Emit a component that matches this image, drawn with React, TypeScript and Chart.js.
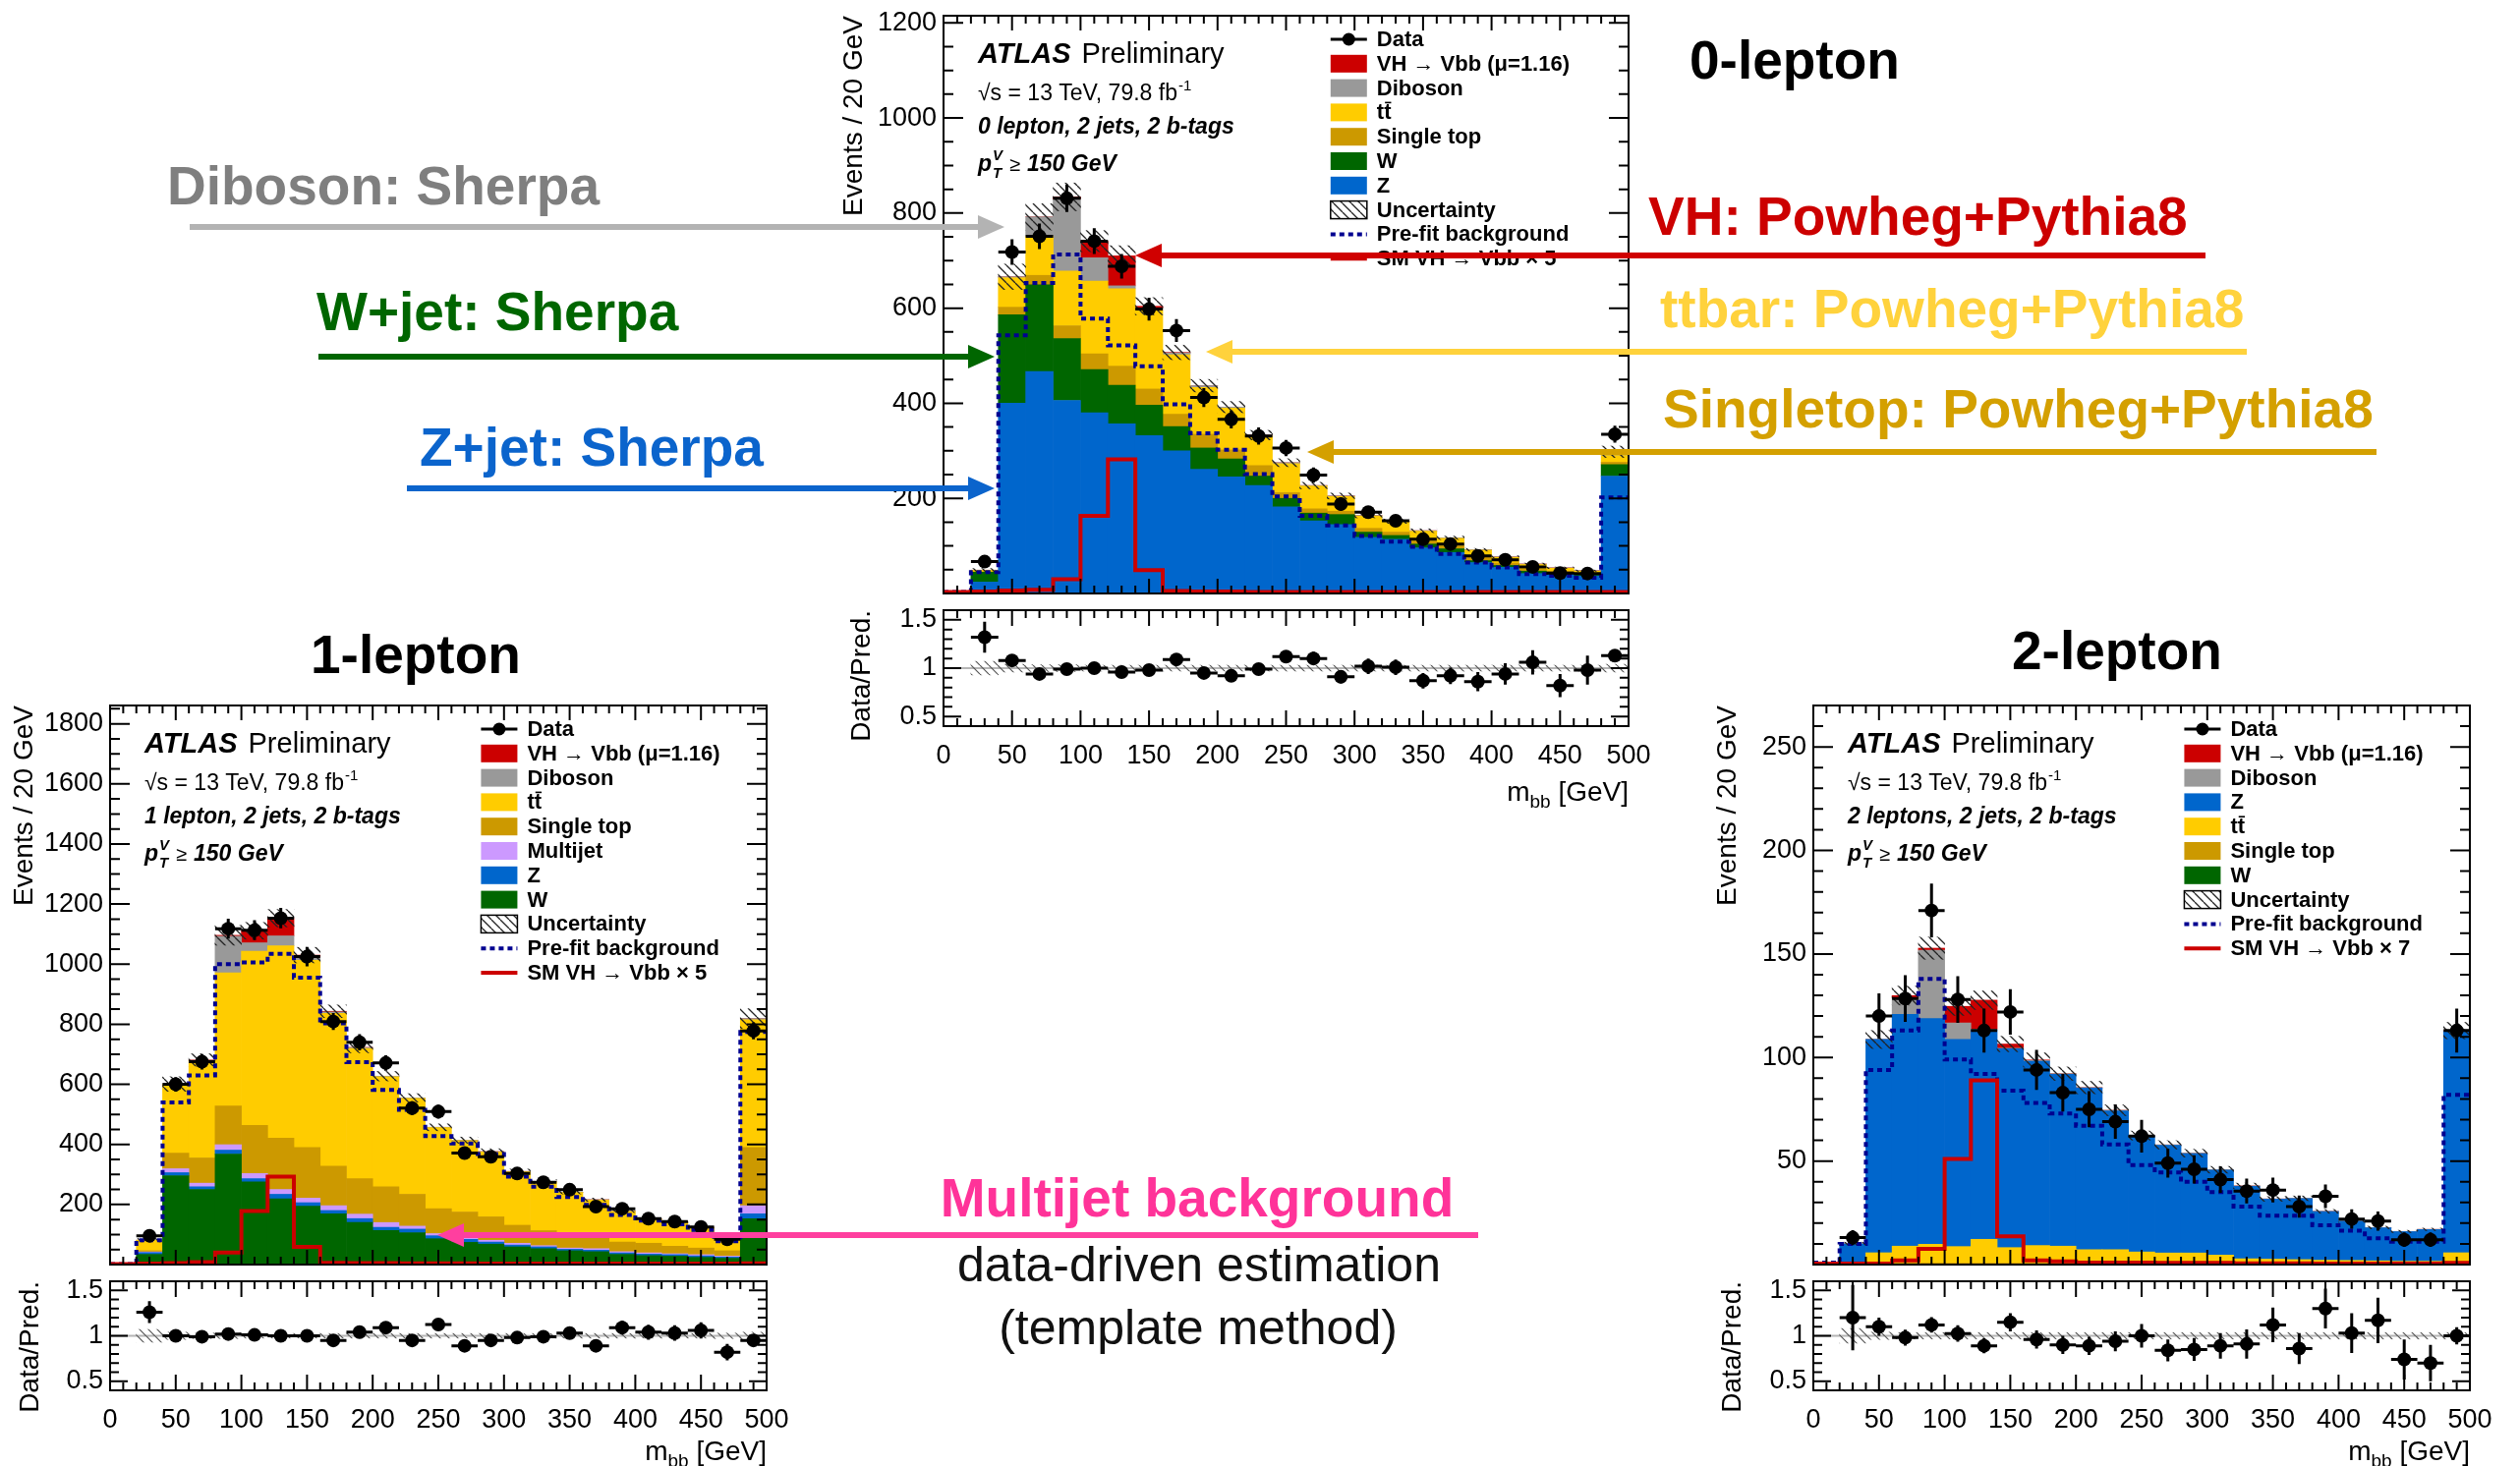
import React, { useEffect, useRef } from 'react';
import { Chart, registerables } from 'chart.js';

Chart.register(...registerables);

const FONT = '"Liberation Sans", Arial, Helvetica, sans-serif';

// ---------- binning / shared ticks ----------
const BIN_CENTERS = [10, 30, 50, 70, 90, 110, 130, 150, 170, 190, 210, 230, 250, 270, 290, 310, 330, 350, 370, 390, 410, 430, 450, 470, 490];
const BIN_HALF_WIDTH = 10;
const X_MIN = 0;
const X_MAX = 500;
const X_TICK_LABELS = [0, 50, 100, 150, 200, 250, 300, 350, 400, 450, 500];
const RATIO_TICK_LABELS = [0.5, 1, 1.5];
const RATIO_MIN = 0.4;
const RATIO_MAX = 1.6;

// ---------- 0-lepton ----------
const L0_Y_TICK_LABELS = [200, 400, 600, 800, 1000, 1200];
const L0_Z = [2, 24, 400, 467, 406, 380, 357, 332, 300, 261, 245, 227, 182, 153, 145, 118, 114, 96, 86, 65, 55, 42, 41, 37, 247];
const L0_W = [0, 21, 186, 182, 130, 91, 81, 64, 51, 45, 38, 20, 18, 16, 21, 11, 8, 8, 8, 4, 4, 5, 3, 2, 24];
const L0_SINGLE_TOP = [0, 0, 16, 20, 27, 33, 40, 34, 26, 29, 19, 22, 12, 9, 7, 8, 7, 6, 6, 7, 5, 4, 3, 3, 5];
const L0_TTBAR = [0, 4, 62, 82, 115, 153, 163, 166, 125, 98, 88, 62, 61, 48, 31, 26, 22, 21, 16, 15, 12, 10, 6, 5, 14];
const L0_DIBOSON = [0, 0, 2, 41, 151, 49, 6, 4, 4, 4, 2, 2, 2, 1, 1, 1, 1, 1, 1, 1, 1, 1, 1, 1, 8];
const L0_VH = [0, 0, 0, 0, 5, 35, 63, 4, 1, 0, 0, 0, 0, 0, 0, 0, 0, 0, 0, 0, 0, 0, 0, 0, 0];
const L0_DATA = [null, 67, 718, 751, 831, 741, 688, 598, 553, 412, 366, 331, 306, 249, 188, 171, 153, 114, 104, 79, 71, 56, 43, 42, 335];
const L0_DATA_ERR = [0, 8, 27, 27, 29, 27, 26, 24, 24, 20, 19, 18, 17, 16, 14, 13, 12, 11, 10, 9, 8, 7.5, 6.6, 6.5, 18];
const L0_PREFIT = [3, 45, 543, 653, 713, 578, 522, 478, 398, 337, 302, 251, 204, 163, 143, 121, 109, 98, 83, 65, 55, 41, 37, 33, 202];
const L0_SM_VH = [3, 4, 6, 8, 30, 163, 282, 49, 5, 4, 4, 3, 3, 3, 3, 3, 3, 3, 3, 3, 3, 3, 3, 3, 3];
const L0_UNC = [0, 0.07, 0.04, 0.035, 0.035, 0.03, 0.03, 0.03, 0.03, 0.03, 0.03, 0.03, 0.03, 0.03, 0.03, 0.03, 0.03, 0.03, 0.03, 0.03, 0.03, 0.03, 0.03, 0.03, 0.04];
const L0_RATIO = [null, 1.32, 1.08, 0.94, 0.99, 1.0, 0.96, 0.98, 1.09, 0.95, 0.92, 0.99, 1.12, 1.1, 0.91, 1.02, 1.01, 0.87, 0.92, 0.86, 0.94, 1.06, 0.82, 0.98, 1.13];
const L0_RATIO_ERR = [0, 0.16, 0.04, 0.035, 0.035, 0.037, 0.037, 0.04, 0.046, 0.046, 0.05, 0.055, 0.06, 0.07, 0.067, 0.08, 0.08, 0.08, 0.086, 0.1, 0.11, 0.125, 0.12, 0.15, 0.06];

// ---------- 1-lepton ----------
const L1_Y_TICK_LABELS = [200, 400, 600, 800, 1000, 1200, 1400, 1600, 1800];
const L1_W = [0, 34, 296, 250, 368, 275, 219, 194, 169, 140, 113, 106, 86, 74, 68, 59, 53, 46, 43, 34, 30, 28, 24, 21, 153];
const L1_Z = [0, 6, 10, 9, 13, 11, 15, 12, 11, 13, 11, 12, 10, 10, 7, 6, 6, 5, 5, 5, 5, 5, 5, 4, 16];
const L1_MULTIJET = [0, 2, 13, 12, 18, 17, 16, 15, 16, 15, 16, 10, 7, 6, 6, 6, 4, 4, 5, 4, 4, 3, 4, 3, 27];
const L1_SINGLE_TOP = [0, 4, 52, 84, 129, 160, 171, 169, 132, 118, 119, 106, 83, 85, 78, 60, 50, 48, 37, 32, 32, 25, 22, 18, 194];
const L1_TTBAR = [0, 35, 229, 323, 443, 580, 640, 623, 508, 433, 366, 319, 270, 238, 216, 178, 162, 137, 125, 102, 80, 80, 68, 56, 425];
const L1_DIBOSON = [0, 0, 1, 2, 122, 28, 33, 11, 5, 3, 2, 2, 1, 1, 1, 1, 1, 1, 1, 1, 1, 1, 1, 1, 4];
const L1_VH = [0, 0, 0, 1, 3, 40, 59, 6, 2, 1, 0, 0, 0, 0, 0, 0, 0, 0, 0, 0, 0, 0, 0, 0, 0];
const L1_DATA = [null, 96, 600, 675, 1118, 1113, 1153, 1025, 809, 740, 671, 521, 509, 371, 359, 303, 274, 249, 193, 186, 153, 143, 125, 84, 778];
const L1_DATA_ERR = [0, 10, 24, 26, 33, 33, 34, 32, 28, 27, 26, 23, 23, 19, 19, 17, 17, 16, 14, 14, 12, 12, 11, 9, 28];
const L1_PREFIT = [2, 81, 540, 630, 1000, 1006, 1034, 955, 803, 674, 581, 515, 428, 403, 368, 293, 259, 225, 199, 165, 146, 134, 115, 78, 774];
const L1_SM_VH = [2, 3, 5, 8, 40, 178, 293, 59, 6, 5, 5, 4, 4, 4, 3, 3, 3, 3, 3, 3, 3, 3, 3, 3, 4];
const L1_UNC = [0, 0.07, 0.04, 0.03, 0.03, 0.025, 0.025, 0.025, 0.025, 0.025, 0.025, 0.025, 0.025, 0.025, 0.025, 0.025, 0.025, 0.025, 0.025, 0.025, 0.025, 0.025, 0.025, 0.03, 0.04];
const L1_RATIO = [null, 1.26, 1.0, 0.99, 1.02, 1.01, 1.0, 1.0, 0.95, 1.04, 1.09, 0.95, 1.125, 0.89, 0.95, 0.98, 0.99, 1.03, 0.89, 1.09, 1.04, 1.03, 1.06, 0.82, 0.95];
const L1_RATIO_ERR = [0, 0.12, 0.04, 0.038, 0.03, 0.03, 0.03, 0.031, 0.033, 0.037, 0.04, 0.042, 0.05, 0.046, 0.05, 0.056, 0.06, 0.065, 0.064, 0.077, 0.082, 0.085, 0.09, 0.09, 0.034];

// ---------- 2-lepton ----------
const L2_Y_TICK_LABELS = [50, 100, 150, 200, 250];
const L2_W = [0, 0, 0.2, 0.2, 0.2, 0.2, 0.2, 0.2, 0.2, 0.2, 0.2, 0.2, 0.1, 0.1, 0.1, 0.1, 0.1, 0.1, 0.1, 0.1, 0.1, 0.1, 0.1, 0.1, 0.2];
const L2_SINGLE_TOP = [0, 0, 0.5, 0.7, 0.6, 0.5, 0.5, 0.5, 0.5, 0.5, 0.5, 0.5, 0.5, 0.5, 0.5, 0.5, 0.2, 0.2, 0.2, 0.1, 0.1, 0.1, 0.1, 0.1, 0.5];
const L2_TTBAR = [0, 1, 5, 8, 9, 8, 11.5, 7.5, 8.5, 8.2, 6.5, 6.5, 5.5, 5, 5, 4, 2.5, 2.3, 2.1, 1.9, 1.8, 1.6, 1.4, 1.4, 5];
const L2_Z = [0, 9, 103, 112, 109, 100, 101, 96, 89, 83, 78, 67, 56, 52, 48, 41, 35, 29, 29.5, 23.5, 19, 16, 14.3, 15.3, 107];
const L2_DIBOSON = [0, 0, 0, 8, 33, 8, 0.5, 0.3, 0.3, 0.3, 0.3, 0.3, 0.2, 0.2, 0.2, 0.2, 0.2, 0.1, 0.1, 0.1, 0.1, 0.1, 0.1, 0.1, 0.3];
const L2_VH = [0, 0, 0, 1, 1, 8, 14, 2, 0.3, 0, 0, 0, 0, 0, 0, 0, 0, 0, 0, 0, 0, 0, 0, 0, 0];
const L2_DATA = [null, 13, 120, 128.5, 171, 128, 113, 122, 94, 83, 75, 69, 62, 49, 46, 41, 35.5, 36, 28, 33, 22, 21, 12, 12, 113];
const L2_DATA_ERR = [0, 3.6, 11, 11.3, 13, 11.3, 10.6, 11, 9.7, 9.1, 8.7, 8.3, 7.9, 7, 6.8, 6.4, 6, 6, 5.3, 5.7, 4.7, 4.6, 3.5, 3.5, 10.6];
const L2_PREFIT = [1, 10, 94, 113, 138, 99, 92, 84, 78, 73, 67, 58, 48, 44.5, 40, 35, 28, 23.6, 23.6, 19, 16.4, 12.7, 11, 11, 82];
const L2_SM_VH = [0.5, 0.5, 0.5, 2, 7.6, 51, 89, 13.6, 2, 1.5, 1, 1, 1, 0.8, 0.8, 0.8, 0.6, 0.6, 0.6, 0.5, 0.5, 0.5, 0.5, 0.5, 0.8];
const L2_UNC = [0, 0.08, 0.04, 0.035, 0.035, 0.035, 0.035, 0.035, 0.035, 0.035, 0.035, 0.035, 0.035, 0.035, 0.035, 0.035, 0.035, 0.035, 0.035, 0.035, 0.035, 0.035, 0.035, 0.035, 0.035];
const L2_RATIO = [null, 1.2, 1.1, 0.98, 1.12, 1.025, 0.89, 1.15, 0.96, 0.9, 0.89, 0.94, 1.0, 0.84, 0.85, 0.89, 0.91, 1.12, 0.86, 1.3, 1.03, 1.17, 0.74, 0.7, 1.0];
const L2_RATIO_ERR = [0, 0.36, 0.1, 0.087, 0.085, 0.09, 0.083, 0.1, 0.1, 0.1, 0.1, 0.11, 0.13, 0.12, 0.126, 0.14, 0.16, 0.19, 0.17, 0.22, 0.22, 0.25, 0.22, 0.2, 0.094];

// ---------- colours ----------
const C_VH = '#cc0000';
const C_DIB = '#999999';
const C_TT = '#ffcc00';
const C_ST = '#cc9900';
const C_W = '#006600';
const C_Z = '#0066cc';
const C_MJ = '#cc99ff';
const C_PREFIT = '#000090';
const C_SM = '#cc0000';

// ---------- layout ----------
const AXIS_W = 125;
const PAD_T = 16;
const PAD_R = 34;
const PAD_B = 6;
const X_AXIS_H = 100;
const POINT_R = 7;

const PANELS: any[] = [
  {
    id: 'l0',
    frame: { l: 960, t: 16, r: 1657, b: 605 },
    ratioFrame: { t: 621, b: 739 },
    yMax: 1215, yTicks: L0_Y_TICK_LABELS, yMajor: 200, yMinor: 50,
    titleDx: 91, ratioTitleDx: 83, xTitleDy: 76,
    channel: '0 lepton, 2 jets, 2 b-tags',
    stack: [
      { label: 'Z', color: C_Z, values: L0_Z },
      { label: 'W', color: C_W, values: L0_W },
      { label: 'Single top', color: C_ST, values: L0_SINGLE_TOP },
      { label: 'ttbar', color: C_TT, values: L0_TTBAR },
      { label: 'Diboson', color: C_DIB, values: L0_DIBOSON },
      { label: 'VH', color: C_VH, values: L0_VH },
    ],
    legend: [
      { kind: 'data', label: 'Data' },
      { kind: 'box', color: C_VH, label: 'VH \u2192 Vbb (\u03bc=1.16)' },
      { kind: 'box', color: C_DIB, label: 'Diboson' },
      { kind: 'box', color: C_TT, label: 'tt', bar: true },
      { kind: 'box', color: C_ST, label: 'Single top' },
      { kind: 'box', color: C_W, label: 'W' },
      { kind: 'box', color: C_Z, label: 'Z' },
      { kind: 'hatch', label: 'Uncertainty' },
      { kind: 'dotted', label: 'Pre-fit background' },
      { kind: 'line', label: 'SM VH \u2192 Vbb \u00d7 5' },
    ],
    data: L0_DATA, dataErr: L0_DATA_ERR, prefit: L0_PREFIT, sm: L0_SM_VH, unc: L0_UNC,
    ratio: L0_RATIO, ratioErr: L0_RATIO_ERR,
  },
  {
    id: 'l1',
    frame: { l: 112, t: 718, r: 780, b: 1288 },
    ratioFrame: { t: 1304, b: 1415 },
    yMax: 1861, yTicks: L1_Y_TICK_LABELS, yMajor: 200, yMinor: 50,
    titleDx: 87, ratioTitleDx: 81, xTitleDy: 71,
    channel: '1 lepton, 2 jets, 2 b-tags',
    stack: [
      { label: 'W', color: C_W, values: L1_W },
      { label: 'Z', color: C_Z, values: L1_Z },
      { label: 'Multijet', color: C_MJ, values: L1_MULTIJET },
      { label: 'Single top', color: C_ST, values: L1_SINGLE_TOP },
      { label: 'ttbar', color: C_TT, values: L1_TTBAR },
      { label: 'Diboson', color: C_DIB, values: L1_DIBOSON },
      { label: 'VH', color: C_VH, values: L1_VH },
    ],
    legend: [
      { kind: 'data', label: 'Data' },
      { kind: 'box', color: C_VH, label: 'VH \u2192 Vbb (\u03bc=1.16)' },
      { kind: 'box', color: C_DIB, label: 'Diboson' },
      { kind: 'box', color: C_TT, label: 'tt', bar: true },
      { kind: 'box', color: C_ST, label: 'Single top' },
      { kind: 'box', color: C_MJ, label: 'Multijet' },
      { kind: 'box', color: C_Z, label: 'Z' },
      { kind: 'box', color: C_W, label: 'W' },
      { kind: 'hatch', label: 'Uncertainty' },
      { kind: 'dotted', label: 'Pre-fit background' },
      { kind: 'line', label: 'SM VH \u2192 Vbb \u00d7 5' },
    ],
    data: L1_DATA, dataErr: L1_DATA_ERR, prefit: L1_PREFIT, sm: L1_SM_VH, unc: L1_UNC,
    ratio: L1_RATIO, ratioErr: L1_RATIO_ERR,
  },
  {
    id: 'l2',
    frame: { l: 1845, t: 718, r: 2513, b: 1288 },
    ratioFrame: { t: 1304, b: 1415 },
    yMax: 270, yTicks: L2_Y_TICK_LABELS, yMajor: 50, yMinor: 10,
    titleDx: 87, ratioTitleDx: 82, xTitleDy: 71,
    channel: '2 leptons, 2 jets, 2 b-tags',
    stack: [
      { label: 'W', color: C_W, values: L2_W },
      { label: 'Single top', color: C_ST, values: L2_SINGLE_TOP },
      { label: 'ttbar', color: C_TT, values: L2_TTBAR },
      { label: 'Z', color: C_Z, values: L2_Z },
      { label: 'Diboson', color: C_DIB, values: L2_DIBOSON },
      { label: 'VH', color: C_VH, values: L2_VH },
    ],
    legend: [
      { kind: 'data', label: 'Data' },
      { kind: 'box', color: C_VH, label: 'VH \u2192 Vbb (\u03bc=1.16)' },
      { kind: 'box', color: C_DIB, label: 'Diboson' },
      { kind: 'box', color: C_Z, label: 'Z' },
      { kind: 'box', color: C_TT, label: 'tt', bar: true },
      { kind: 'box', color: C_ST, label: 'Single top' },
      { kind: 'box', color: C_W, label: 'W' },
      { kind: 'hatch', label: 'Uncertainty' },
      { kind: 'dotted', label: 'Pre-fit background' },
      { kind: 'line', label: 'SM VH \u2192 Vbb \u00d7 7' },
    ],
    data: L2_DATA, dataErr: L2_DATA_ERR, prefit: L2_PREFIT, sm: L2_SM_VH, unc: L2_UNC,
    ratio: L2_RATIO, ratioErr: L2_RATIO_ERR,
  },
];

// ---------- helpers ----------
function makeHatch(color: string, lw: number, s: number) {
  const c = document.createElement('canvas');
  c.width = s;
  c.height = s;
  const g = c.getContext('2d')!;
  g.strokeStyle = color;
  g.lineWidth = lw;
  g.beginPath();
  for (const k of [-s, 0, s]) {
    g.moveTo(k, 0);
    g.lineTo(k + s, s);
  }
  g.stroke();
  return g.createPattern(c, 'repeat');
}

function stepPoints(values: number[]) {
  const pts = BIN_CENTERS.map((x, i) => ({ x, y: values[i] }));
  return [{ x: X_MIN, y: values[0] }, ...pts, { x: X_MAX, y: values[values.length - 1] }];
}

function drawErrorBars(chart: any, index: number, yScaleId: string) {
  const ds = chart.data.datasets[index];
  if (!ds || !ds.errY) return;
  const ctx = chart.ctx;
  const xs = chart.scales.x;
  const ys = chart.scales[yScaleId];
  const a = chart.chartArea;
  ctx.save();
  ctx.beginPath();
  ctx.rect(a.left, a.top, a.right - a.left, a.bottom - a.top);
  ctx.clip();
  ctx.strokeStyle = '#000';
  ctx.lineWidth = 3;
  ctx.beginPath();
  ds.data.forEach((p: any, i: number) => {
    if (p.y === null || p.y === undefined) return;
    const y = ys.getPixelForValue(p.y);
    const x0 = xs.getPixelForValue(p.x - BIN_HALF_WIDTH);
    const x1 = xs.getPixelForValue(p.x + BIN_HALF_WIDTH);
    const xc = xs.getPixelForValue(p.x);
    ctx.moveTo(x0, y);
    ctx.lineTo(x1, y);
    const e = ds.errY[i];
    ctx.moveTo(xc, ys.getPixelForValue(p.y - e));
    ctx.lineTo(xc, ys.getPixelForValue(p.y + e));
  });
  ctx.stroke();
  ctx.restore();
}

function drawFrameAndTicks(ctx: any, a: any, xs: any, ys: any, yMin: number, yMax: number, yMajor: number, yMinor: number, len: any) {
  ctx.save();
  ctx.strokeStyle = '#000';
  ctx.lineWidth = 2;
  ctx.beginPath();
  const kStart = Math.ceil(yMin / yMinor - 1e-9);
  for (let k = kStart; k * yMinor <= yMax + 1e-9; k++) {
    const v = k * yMinor;
    if (v <= yMin + 1e-9 || v >= yMax - 1e-9) continue;
    const major = Math.abs(v / yMajor - Math.round(v / yMajor)) < 1e-6;
    const l = major ? len.yMajor : len.yMinor;
    const y = ys.getPixelForValue(v);
    ctx.moveTo(a.left, y);
    ctx.lineTo(a.left + l, y);
    ctx.moveTo(a.right, y);
    ctx.lineTo(a.right - l, y);
  }
  for (let v = X_MIN + 10; v < X_MAX; v += 10) {
    const major = v % 50 === 0;
    const l = major ? len.xMajor : len.xMinor;
    const x = xs.getPixelForValue(v);
    ctx.moveTo(x, a.bottom);
    ctx.lineTo(x, a.bottom - l);
    ctx.moveTo(x, a.top);
    ctx.lineTo(x, a.top + l);
  }
  ctx.stroke();
  ctx.strokeRect(a.left, a.top, a.right - a.left, a.bottom - a.top);
  ctx.restore();
}

function drawVerticalTitle(ctx: any, text: string, x: number, yTop: number, size: number) {
  ctx.save();
  ctx.translate(x, yTop);
  ctx.rotate(-Math.PI / 2);
  ctx.font = `${size}px ${FONT}`;
  ctx.fillStyle = '#000';
  ctx.textAlign = 'right';
  ctx.textBaseline = 'middle';
  ctx.fillText(text, 0, 0);
  ctx.restore();
}

function drawAtlasText(ctx: any, a: any, channel: string) {
  const x = a.left + 35;
  ctx.save();
  ctx.fillStyle = '#000';
  ctx.textAlign = 'left';
  ctx.textBaseline = 'alphabetic';
  ctx.font = `italic bold 29px ${FONT}`;
  ctx.fillText('ATLAS', x, a.top + 48);
  const wA = ctx.measureText('ATLAS').width;
  ctx.font = `29px ${FONT}`;
  ctx.fillText('Preliminary', x + wA + 11, a.top + 48);

  ctx.font = `23px ${FONT}`;
  const s1 = '\u221as = 13 TeV, 79.8 fb';
  ctx.fillText(s1, x, a.top + 86);
  const w1 = ctx.measureText(s1).width;
  ctx.font = `15px ${FONT}`;
  ctx.fillText('-1', x + w1 + 1, a.top + 76);

  ctx.font = `italic bold 23px ${FONT}`;
  ctx.fillText(channel, x, a.top + 120);

  const yb = a.top + 158;
  ctx.fillText('p', x, yb);
  const wp = ctx.measureText('p').width;
  ctx.font = `italic bold 15px ${FONT}`;
  ctx.fillText('V', x + wp + 1, yb - 11);
  ctx.fillText('T', x + wp + 1, yb + 7);
  ctx.font = `20px ${FONT}`;
  const xg = x + wp + 18;
  ctx.fillText('\u2265', xg, yb);
  const wg = ctx.measureText('\u2265').width;
  ctx.font = `italic bold 23px ${FONT}`;
  ctx.fillText('150 GeV', xg + wg + 7, yb);
  ctx.restore();
}

function drawLegend(ctx: any, a: any, entries: any[], hatch: any) {
  const bx = a.left + 0.565 * (a.right - a.left);
  const bw = 37;
  const tx = bx + 47;
  ctx.save();
  entries.forEach((e: any, i: number) => {
    const cy = a.top + 24 + i * 24.8;
    if (e.kind === 'data') {
      ctx.strokeStyle = '#000';
      ctx.lineWidth = 3;
      ctx.beginPath();
      ctx.moveTo(bx, cy);
      ctx.lineTo(bx + bw, cy);
      ctx.stroke();
      ctx.fillStyle = '#000';
      ctx.beginPath();
      ctx.arc(bx + bw / 2, cy, 6.5, 0, Math.PI * 2);
      ctx.fill();
    } else if (e.kind === 'box') {
      ctx.fillStyle = e.color;
      ctx.fillRect(bx, cy - 9, bw, 18);
    } else if (e.kind === 'hatch') {
      ctx.fillStyle = '#fff';
      ctx.fillRect(bx, cy - 9, bw, 18);
      ctx.fillStyle = hatch;
      ctx.fillRect(bx, cy - 9, bw, 18);
      ctx.strokeStyle = '#000';
      ctx.lineWidth = 1.5;
      ctx.strokeRect(bx, cy - 9, bw, 18);
    } else if (e.kind === 'dotted') {
      ctx.strokeStyle = C_PREFIT;
      ctx.lineWidth = 4;
      ctx.setLineDash([5, 4]);
      ctx.beginPath();
      ctx.moveTo(bx, cy);
      ctx.lineTo(bx + bw, cy);
      ctx.stroke();
      ctx.setLineDash([]);
    } else if (e.kind === 'line') {
      ctx.strokeStyle = C_SM;
      ctx.lineWidth = 4;
      ctx.beginPath();
      ctx.moveTo(bx, cy);
      ctx.lineTo(bx + bw, cy);
      ctx.stroke();
    }
    ctx.fillStyle = '#000';
    ctx.font = `bold 22px ${FONT}`;
    ctx.textAlign = 'left';
    ctx.textBaseline = 'middle';
    ctx.fillText(e.label, tx, cy + 1);
    if (e.bar) {
      const w1 = ctx.measureText('t').width;
      const w2 = ctx.measureText('tt').width;
      ctx.strokeStyle = '#000';
      ctx.lineWidth = 1.6;
      ctx.beginPath();
      ctx.moveTo(tx + w1 + 1, cy - 10);
      ctx.lineTo(tx + w2, cy - 10);
      ctx.stroke();
    }
  });
  ctx.restore();
}

function drawXTitle(ctx: any, a: any, dy: number) {
  ctx.save();
  ctx.fillStyle = '#000';
  ctx.textAlign = 'left';
  ctx.textBaseline = 'alphabetic';
  const yb = a.bottom + dy;
  ctx.font = `28px ${FONT}`;
  const t3 = ' [GeV]';
  const w3 = ctx.measureText(t3).width;
  const w1 = ctx.measureText('m').width;
  ctx.font = `19px ${FONT}`;
  const w2 = ctx.measureText('bb').width;
  const x3 = a.right - w3;
  const x2 = x3 - w2;
  const x1 = x2 - w1;
  ctx.fillText('bb', x2, yb + 7);
  ctx.font = `28px ${FONT}`;
  ctx.fillText('m', x1, yb);
  ctx.fillText(t3, x3, yb);
  ctx.restore();
}

const TICK_FONT = { family: FONT, size: 27 };

function mainConfig(p: any, hatch: any) {
  const total = BIN_CENTERS.map((_, i) => p.stack.reduce((s: number, c: any) => s + c.values[i], 0));
  const datasets: any[] = [];
  datasets.push({
    type: 'line', label: 'Data',
    data: BIN_CENTERS.map((x, i) => ({ x, y: p.data[i] })),
    errY: p.dataErr, showLine: false, pointRadius: POINT_R, pointHoverRadius: POINT_R,
    pointBackgroundColor: '#000', pointBorderColor: '#000', pointBorderWidth: 0,
    yAxisID: 'yU', order: 0,
  });
  datasets.push({
    type: 'line', label: 'SM VH', data: stepPoints(p.sm), stepped: 'middle',
    borderColor: C_SM, borderWidth: 4, pointRadius: 0, fill: false, yAxisID: 'yU', order: 1,
  });
  datasets.push({
    type: 'line', label: 'Pre-fit', data: stepPoints(p.prefit), stepped: 'middle',
    borderColor: C_PREFIT, borderWidth: 4, borderDash: [5, 4], pointRadius: 0, fill: false, yAxisID: 'yU', order: 2,
  });
  datasets.push({
    type: 'bar', label: 'Uncertainty',
    data: BIN_CENTERS.map((x, i) => ({ x, y: total[i] > 0 ? [total[i] * (1 - p.unc[i]), total[i] * (1 + p.unc[i])] : null })),
    backgroundColor: hatch, borderWidth: 0, grouped: false, yAxisID: 'yU', order: 3,
    barPercentage: 1, categoryPercentage: 1,
  });
  p.stack.forEach((c: any) => {
    datasets.push({
      type: 'bar', label: c.label,
      data: BIN_CENTERS.map((x, i) => ({ x, y: c.values[i] })),
      backgroundColor: c.color, borderWidth: 0, yAxisID: 'y', order: 10,
      barPercentage: 1, categoryPercentage: 1,
    });
  });

  const plugin = {
    id: 'mainDecor' + p.id,
    beforeDatasetDraw(chart: any, args: any) {
      drawErrorBars(chart, args.index, 'yU');
    },
    afterDraw(chart: any) {
      const ctx = chart.ctx;
      const a = chart.chartArea;
      drawFrameAndTicks(ctx, a, chart.scales.x, chart.scales.y, 0, p.yMax, p.yMajor, p.yMinor,
        { yMajor: 20, yMinor: 10, xMajor: 15, xMinor: 8 });
      drawAtlasText(ctx, a, p.channel);
      drawLegend(ctx, a, p.legend, hatch);
      drawVerticalTitle(ctx, 'Events / 20 GeV', a.left - p.titleDx, a.top, 28);
    },
  };

  return {
    type: 'bar',
    data: { datasets },
    options: {
      animation: false, responsive: false, maintainAspectRatio: false, devicePixelRatio: 1,
      events: [],
      layout: { padding: { left: 0, right: PAD_R, top: PAD_T, bottom: PAD_B } },
      plugins: { legend: { display: false }, tooltip: { enabled: false }, title: { display: false } },
      scales: {
        x: {
          type: 'linear', min: X_MIN, max: X_MAX, display: false, stacked: true, offset: false,
          grid: { display: false, offset: false },
          afterBuildTicks: (s: any) => { s.ticks = X_TICK_LABELS.map((v) => ({ value: v })); },
        },
        y: {
          type: 'linear', position: 'left', min: 0, max: p.yMax, stacked: true,
          grid: { display: false, drawTicks: false }, border: { display: false },
          ticks: { font: TICK_FONT, color: '#000', padding: 7, autoSkip: false, callback: (v: any) => String(v) },
          afterBuildTicks: (s: any) => { s.ticks = p.yTicks.map((v: number) => ({ value: v })); },
          afterFit: (s: any) => { s.width = AXIS_W; s.paddingTop = 0; s.paddingBottom = 0; },
        },
        yU: { type: 'linear', min: 0, max: p.yMax, display: false, stacked: false },
      },
    },
    plugins: [plugin],
  };
}

function ratioConfig(p: any, hatch: any) {
  const datasets: any[] = [];
  datasets.push({
    type: 'line', label: 'Data/Pred.',
    data: BIN_CENTERS.map((x, i) => ({ x, y: p.ratio[i] })),
    errY: p.ratioErr, showLine: false, pointRadius: POINT_R, pointHoverRadius: POINT_R,
    pointBackgroundColor: '#000', pointBorderColor: '#000', pointBorderWidth: 0,
    yAxisID: 'y', order: 0,
  });
  datasets.push({
    type: 'line', label: 'unity', data: [{ x: X_MIN, y: 1 }, { x: X_MAX, y: 1 }],
    borderColor: '#b5b5b5', borderWidth: 2, pointRadius: 0, fill: false, yAxisID: 'y', order: 2,
  });
  datasets.push({
    type: 'bar', label: 'Uncertainty',
    data: BIN_CENTERS.map((x, i) => ({ x, y: p.unc[i] > 0 ? [1 - p.unc[i], 1 + p.unc[i]] : null })),
    backgroundColor: hatch, borderWidth: 0, grouped: false, yAxisID: 'y', order: 1,
    barPercentage: 1, categoryPercentage: 1,
  });

  const plugin = {
    id: 'ratioDecor' + p.id,
    beforeDatasetDraw(chart: any, args: any) {
      drawErrorBars(chart, args.index, 'y');
    },
    afterDraw(chart: any) {
      const ctx = chart.ctx;
      const a = chart.chartArea;
      drawFrameAndTicks(ctx, a, chart.scales.x, chart.scales.y, RATIO_MIN, RATIO_MAX, 0.5, 0.1,
        { yMajor: 18, yMinor: 9, xMajor: 16, xMinor: 8 });
      drawVerticalTitle(ctx, 'Data/Pred.', a.left - p.ratioTitleDx, a.top, 28);
      drawXTitle(ctx, a, p.xTitleDy);
    },
  };

  return {
    type: 'bar',
    data: { datasets },
    options: {
      animation: false, responsive: false, maintainAspectRatio: false, devicePixelRatio: 1,
      events: [],
      layout: { padding: { left: 0, right: PAD_R, top: PAD_T, bottom: 0 } },
      plugins: { legend: { display: false }, tooltip: { enabled: false }, title: { display: false } },
      scales: {
        x: {
          type: 'linear', min: X_MIN, max: X_MAX, stacked: false, offset: false, position: 'bottom',
          grid: { display: false, drawTicks: false, offset: false }, border: { display: false },
          ticks: { font: TICK_FONT, color: '#000', padding: 14, autoSkip: false, maxRotation: 0, callback: (v: any) => String(v) },
          afterBuildTicks: (s: any) => { s.ticks = X_TICK_LABELS.map((v) => ({ value: v })); },
          afterFit: (s: any) => { s.height = X_AXIS_H; s.paddingLeft = 0; s.paddingRight = 0; },
        },
        y: {
          type: 'linear', position: 'left', min: RATIO_MIN, max: RATIO_MAX, stacked: false,
          grid: { display: false, drawTicks: false }, border: { display: false },
          ticks: { font: TICK_FONT, color: '#000', padding: 7, autoSkip: false, callback: (v: any) => String(v) },
          afterBuildTicks: (s: any) => { s.ticks = RATIO_TICK_LABELS.map((v) => ({ value: v })); },
          afterFit: (s: any) => { s.width = AXIS_W; s.paddingTop = 0; s.paddingBottom = 0; },
        },
      },
    },
    plugins: [plugin],
  };
}

function Panel({ p }: { p: any }) {
  const mainRef = useRef<HTMLCanvasElement>(null);
  const ratioRef = useRef<HTMLCanvasElement>(null);
  const f = p.frame;
  const rf = p.ratioFrame;
  const left = f.l - AXIS_W;
  const width = AXIS_W + (f.r - f.l) + PAD_R;
  const mainTop = f.t - PAD_T;
  const mainH = PAD_T + (f.b - f.t) + PAD_B;
  const ratioTop = rf.t - PAD_T;
  const ratioH = PAD_T + (rf.b - rf.t) + X_AXIS_H;

  useEffect(() => {
    const hatchMain = makeHatch('#222', 1.3, 9);
    const hatchRatio = makeHatch('#555', 1.2, 9);
    const c1 = new Chart(mainRef.current as any, mainConfig(p, hatchMain) as any);
    const c2 = new Chart(ratioRef.current as any, ratioConfig(p, hatchRatio) as any);
    return () => {
      c1.destroy();
      c2.destroy();
    };
  }, []);

  return (
    <>
      <canvas ref={mainRef} width={width} height={mainH}
        style={{ position: 'absolute', left, top: mainTop, width, height: mainH }} />
      <canvas ref={ratioRef} width={width} height={ratioH}
        style={{ position: 'absolute', left, top: ratioTop, width, height: ratioH }} />
    </>
  );
}

// ---------- annotations (text + arrows) ----------
const ANNOTATION_TEXTS = [
  { text: 'Diboson: Sherpa', x: 170, y: 208, color: '#7f7f7f', anchor: 'start', weight: 'bold', size: 55 },
  { text: 'W+jet: Sherpa', x: 322, y: 336, color: '#006600', anchor: 'start', weight: 'bold', size: 55 },
  { text: 'Z+jet: Sherpa', x: 427, y: 474, color: '#0b64cc', anchor: 'start', weight: 'bold', size: 55 },
  { text: '1-lepton', x: 316, y: 685, color: '#000', anchor: 'start', weight: 'bold', size: 55 },
  { text: '0-lepton', x: 1719, y: 80, color: '#000', anchor: 'start', weight: 'bold', size: 55 },
  { text: '2-lepton', x: 2047, y: 681, color: '#000', anchor: 'start', weight: 'bold', size: 55 },
  { text: 'VH: Powheg+Pythia8', x: 1677, y: 239, color: '#cc0000', anchor: 'start', weight: 'bold', size: 55 },
  { text: 'ttbar: Powheg+Pythia8', x: 1689, y: 333, color: '#ffd23c', anchor: 'start', weight: 'bold', size: 55 },
  { text: 'Singletop: Powheg+Pythia8', x: 1692, y: 435, color: '#d4a000', anchor: 'start', weight: 'bold', size: 55 },
  { text: 'Multijet background', x: 1218, y: 1238, color: '#ff3399', anchor: 'middle', weight: 'bold', size: 55 },
  { text: 'data-driven estimation', x: 1220, y: 1304, color: '#111', anchor: 'middle', weight: 'normal', size: 50 },
  { text: '(template method)', x: 1219, y: 1368, color: '#111', anchor: 'middle', weight: 'normal', size: 50 },
];

const ANNOTATION_ARROWS = [
  { x1: 193, x2: 1022, y: 231, color: '#b3b3b3' },
  { x1: 324, x2: 1012, y: 363, color: '#006600' },
  { x1: 414, x2: 1012, y: 497, color: '#0b64cc' },
  { x1: 2244, x2: 1155, y: 260, color: '#d00000' },
  { x1: 2286, x2: 1227, y: 358, color: '#ffd23c' },
  { x1: 2418, x2: 1330, y: 460, color: '#d4a000' },
  { x1: 1504, x2: 445, y: 1257, color: '#ff3f9f' },
];

function Annotations() {
  return (
    <svg width={2564} height={1492} style={{ position: 'absolute', left: 0, top: 0, pointerEvents: 'none' }}>
      {ANNOTATION_ARROWS.map((ar, i) => {
        const dir = Math.sign(ar.x2 - ar.x1);
        const head = 27;
        const half = 12;
        const bx = ar.x2 - dir * head;
        return (
          <g key={i}>
            <line x1={ar.x1} y1={ar.y} x2={bx + dir * 2} y2={ar.y} stroke={ar.color} strokeWidth={6} />
            <polygon points={`${ar.x2},${ar.y} ${bx},${ar.y - half} ${bx},${ar.y + half}`} fill={ar.color} />
          </g>
        );
      })}
      {ANNOTATION_TEXTS.map((t, i) => (
        <text key={i} x={t.x} y={t.y} fill={t.color} textAnchor={t.anchor as any}
          fontFamily={FONT} fontWeight={t.weight} fontSize={t.size}>{t.text}</text>
      ))}
    </svg>
  );
}

export default function App() {
  return (
    <div style={{ position: 'absolute', left: 0, top: 0, width: 2564, height: 1492, overflow: 'hidden', background: '#fff' }}>
      {PANELS.map((p) => <Panel key={p.id} p={p} />)}
      <Annotations />
    </div>
  );
}
